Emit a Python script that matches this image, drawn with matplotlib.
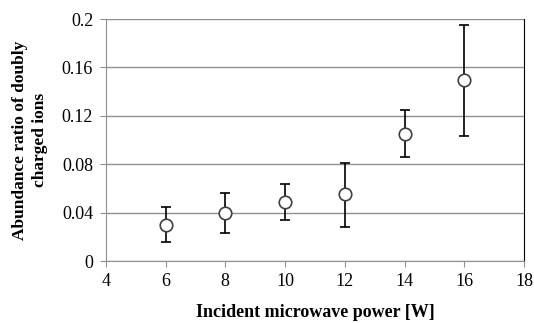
import matplotlib
matplotlib.use('Agg')
import matplotlib.pyplot as plt

# values
power = [6, 8, 10, 12, 14, 16]
ratio = [0.030, 0.040, 0.0485, 0.055, 0.105, 0.150]
err_low = [0.0146, 0.0171, 0.0146, 0.0266, 0.0192, 0.0463]
err_high = [0.0149, 0.0166, 0.0149, 0.0256, 0.0198, 0.0449]
xticks = [4, 6, 8, 10, 12, 14, 16, 18]
yticks = [0, 0.04, 0.08, 0.12, 0.16, 0.2]
ytick_labels = ['0', '0.04', '0.08', '0.12', '0.16', '0.2']

plt.rcParams['font.family'] = ['Liberation Serif', 'DejaVu Serif']

fig = plt.figure(figsize=(5.34, 3.23), dpi=100)
ax = fig.add_axes([105.7 / 534, 1 - 261 / 323, (524.3 - 105.7) / 534, (261 - 19) / 323])

ax.errorbar(power, ratio, yerr=[err_low, err_high], fmt='o', ms=9,
            mfc='white', mec='#404040', mew=1.2, ecolor='black',
            elinewidth=1.2, capsize=3.6, capthick=1.2, zorder=3)

ax.set_xlim(4, 18)
ax.set_ylim(0, 0.2)
ax.set_xticks(xticks)
ax.set_yticks(yticks)
ax.set_yticklabels(ytick_labels)
ax.yaxis.grid(True, color='#909090', lw=1)
ax.set_axisbelow(True)

ax.spines['top'].set_visible(False)
ax.spines['right'].set_color('black')
ax.spines['left'].set_color('#909090')
ax.spines['bottom'].set_color('#909090')
ax.tick_params(direction='out', length=4, color='#909090', labelsize=13, pad=5)

ax.set_xlabel('Incident microwave power [W]', fontsize=13, fontweight='bold', labelpad=10)
ax.set_ylabel('Abundance ratio of doubly\ncharged ions', fontsize=12.5,
              fontweight='bold', labelpad=10, linespacing=1.3)

fig.savefig('out.png', dpi=100)
plt.close(fig)
